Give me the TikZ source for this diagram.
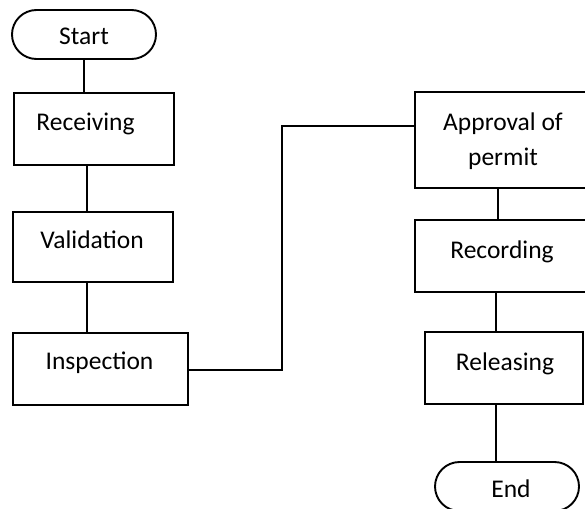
\documentclass[tikz,border=0pt]{standalone}
\usepackage{fontspec}
\setmainfont{Carlito}
\usetikzlibrary{shapes.misc}

\tikzset{
  stepbox/.style={draw=black, line width=1.9pt, rectangle, inner sep=0pt},
  terminal/.style={draw=black, line width=1.9pt, rounded rectangle, inner sep=0pt,
    minimum width=144pt, minimum height=49pt},
  caption/.style={anchor=base, inner sep=0pt, align=center,
    font=\fontsize{25.5}{35}\selectfont},
  link/.style={draw=black, line width=1.9pt}
}

\begin{document}
\begin{tikzpicture}[x=1pt, y=-1pt]
  \useasboundingbox (0,0) rectangle (585,508);
  \clip (0,0) rectangle (585,508);

  % left column
  \node[terminal] (start) at (84,34.5) {};
  \node[stepbox, minimum width=160pt, minimum height=72pt] (recv) at (94,129) {};
  \node[stepbox, minimum width=160pt, minimum height=70pt] (valid) at (93,247) {};
  \node[stepbox, minimum width=175pt, minimum height=72pt] (insp) at (100.5,369) {};

  % right column
  \node[stepbox, minimum width=176pt, minimum height=96pt] (appr) at (503,140) {};
  \node[stepbox, minimum width=176pt, minimum height=72pt] (rec) at (503,256) {};
  \node[stepbox, minimum width=158pt, minimum height=72pt] (rel) at (504,368) {};
  \node[terminal] (end) at (507,486.5) {};

  % labels
  \node[caption] (startT) at (84,45) {Start};
  \node[caption] (recvT) at (85.5,130) {Receiving};
  \node[caption] (validT) at (92,248) {Validation};
  \node[caption] (inspT) at (99.5,369) {Inspection};
  \node[caption] (apprT) at (503,130) {Approval of};
  \node[caption] (apprT2) at (503,165) {permit};
  \node[caption] (recT) at (502,258) {Recording};
  \node[caption] (relT) at (505,370) {Releasing};
  \node[caption] (endT) at (511,497) {End};

  % connectors
  \draw[link] (start.south) -- (start.south |- recv.north);
  \draw[link] ([xshift=-7pt]recv.south) -- ([xshift=-7pt]recv.south |- valid.north);
  \draw[link] ([xshift=-6pt]valid.south) -- ([xshift=-6pt]valid.south |- insp.north);
  \draw[link] ([yshift=-1pt]insp.east) -- ++(93,0) |- ([yshift=14pt]appr.west);
  \draw[link] ([xshift=-5pt]appr.south) -- ([xshift=-5pt]appr.south |- rec.north);
  \draw[link] ([xshift=-7pt]rec.south) -- ([xshift=-7pt]rec.south |- rel.north);
  \draw[link] ([xshift=-8pt]rel.south) -- ([xshift=-8pt]rel.south |- end.north);
\end{tikzpicture}
\end{document}
